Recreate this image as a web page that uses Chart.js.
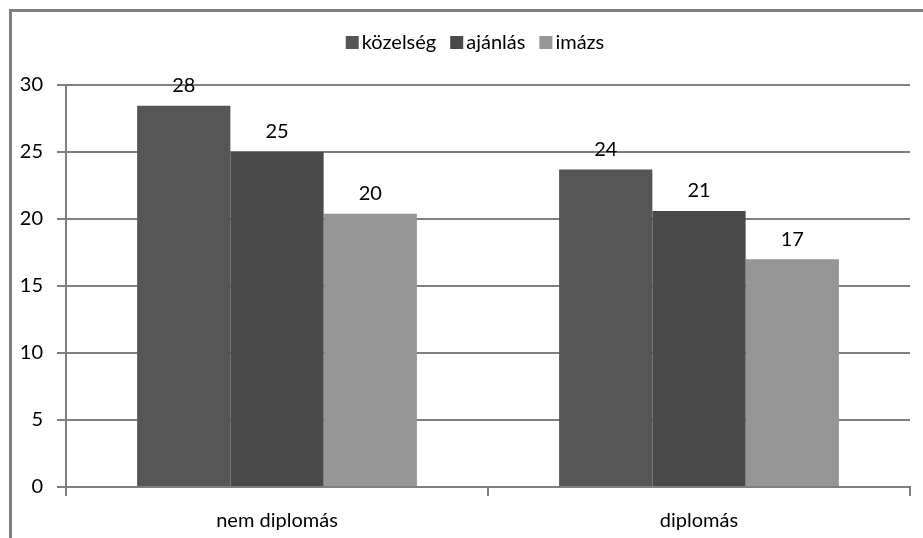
<!DOCTYPE html>
<html>
<head>
<meta charset="utf-8">
<script src="https://cdn.jsdelivr.net/npm/chart.js@4.4.0/dist/chart.umd.min.js"></script>
<style>
  html, body { margin: 0; padding: 0; background: #fff; }
  #wrap { position: relative; width: 923px; height: 538px; }
</style>
</head>
<body>
<div id="wrap"><canvas id="c" width="923" height="538"></canvas></div>
<script>
const categories = ["nem diplomás", "diplomás"];
const seriesNames = ["közelség", "ajánlás", "imázs"];
const kozelseg = [28.45, 23.7];
const ajanlas = [25.0, 20.6];
const imazs = [20.4, 17.0];
const yTicks = [0, 5, 10, 15, 20, 25, 30];

const colors = ["#565656", "#4a4a4a", "#969696"];
const FONT = "Lato, 'Liberation Sans', sans-serif";
const FS = 20;

const borderPlugin = {
  id: 'outerBorder',
  beforeDraw(chart) {
    const ctx = chart.ctx;
    ctx.save();
    ctx.fillStyle = '#fff';
    ctx.fillRect(0, 0, chart.width, chart.height);
    ctx.strokeStyle = '#7f7f7f';
    ctx.lineWidth = 3;
    ctx.beginPath();
    ctx.moveTo(10.5, chart.height);
    ctx.lineTo(10.5, 10.5);
    ctx.lineTo(chart.width, 10.5);
    ctx.stroke();
    ctx.restore();
  }
};

const labelsPlugin = {
  id: 'valueLabels',
  afterDatasetsDraw(chart) {
    const ctx = chart.ctx;
    ctx.save();
    ctx.font = FS + "px " + FONT;
    ctx.fillStyle = '#000';
    ctx.textAlign = 'center';
    ctx.textBaseline = 'middle';
    chart.data.datasets.forEach((ds, di) => {
      const meta = chart.getDatasetMeta(di);
      meta.data.forEach((bar, i) => {
        ctx.fillText(String(Math.round(ds.data[i])), bar.x, bar.y - 20);
      });
    });
    ctx.restore();
  }
};

const legendPlugin = {
  id: 'customLegend',
  afterDraw(chart) {
    const ctx = chart.ctx;
    ctx.save();
    ctx.font = FS + "px " + FONT;
    ctx.textBaseline = 'middle';
    ctx.textAlign = 'left';
    const box = 13, gapText = 3, gapItem = 14;
    const items = chart.data.datasets.map(d => ({ text: d.label, color: d.backgroundColor }));
    let total = 0;
    items.forEach((it, i) => {
      it.w = box + gapText + ctx.measureText(it.text).width;
      total += it.w + (i < items.length - 1 ? gapItem : 0);
    });
    let x = 475 - total / 2;
    const yc = 42.5;
    items.forEach(it => {
      ctx.fillStyle = it.color;
      ctx.fillRect(x, yc - box / 2, box, box);
      ctx.fillStyle = '#000';
      ctx.fillText(it.text, x + box + gapText, yc);
      x += it.w + gapItem;
    });
    ctx.restore();
  }
};

new Chart(document.getElementById('c'), {
  type: 'bar',
  data: {
    labels: categories,
    datasets: [
      { label: seriesNames[0], data: kozelseg, backgroundColor: colors[0] },
      { label: seriesNames[1], data: ajanlas, backgroundColor: colors[1] },
      { label: seriesNames[2], data: imazs, backgroundColor: colors[2] }
    ]
  },
  options: {
    responsive: false,
    animation: false,
    devicePixelRatio: 1,
    layout: { padding: { top: 85, right: 13, left: 0, bottom: 0 } },
    datasets: { bar: { categoryPercentage: 0.663, barPercentage: 1.0, borderWidth: 0 } },
    plugins: { legend: { display: false }, tooltip: { enabled: false } },
    scales: {
      x: {
        grid: { offset: true, drawOnChartArea: false, drawTicks: true, tickLength: 9, color: '#7f7f7f', lineWidth: 2 },
        border: { display: true, color: '#7f7f7f', width: 2 },
        ticks: { color: '#000', font: { family: FONT, size: FS }, padding: 13 },
        afterFit(scale) { scale.height = 51; }
      },
      y: {
        min: 0, max: 30,
        afterBuildTicks(scale) { scale.ticks = yTicks.map(v => ({ value: v })); },
        grid: { color: '#7f7f7f', lineWidth: 2, tickLength: 9, drawTicks: true },
        border: { display: true, color: '#7f7f7f', width: 2 },
        ticks: { color: '#000', font: { family: FONT, size: FS }, padding: 14 },
        afterFit(scale) { scale.width = 66; }
      }
    }
  },
  plugins: [borderPlugin, labelsPlugin, legendPlugin]
});
</script>
</body>
</html>
